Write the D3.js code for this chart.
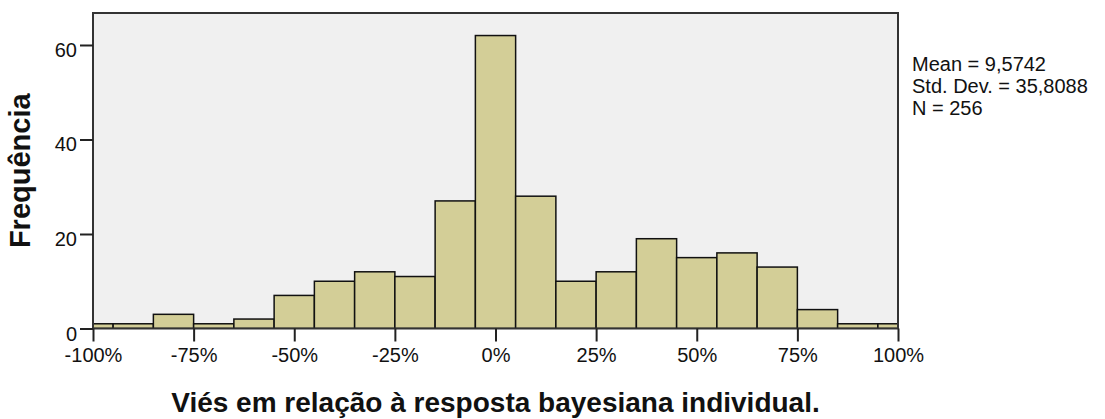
<!DOCTYPE html>
<html>
<head>
<meta charset="utf-8">
<script src="https://cdn.jsdelivr.net/npm/d3@7"></script>
<style>
  body { margin: 0; background: #fff; }
  svg text { font-family: "Liberation Sans", Arial, sans-serif; fill: #111; }
</style>
</head>
<body>
<div id="chart"></div>
<script>
// bin centres (width 10 percentage points) and counts
const binCentres = [-100, -90, -80, -70, -60, -50, -40, -30, -20, -10, 0, 10, 20, 30, 40, 50, 60, 70, 80, 90, 100]
const counts = [1, 1, 3, 1, 2, 7, 10, 12, 11, 27, 62, 28, 10, 12, 19, 15, 16, 13, 4, 1, 1]
const binWidth = 10
const xTicks = [-100, -75, -50, -25, 0, 25, 50, 75, 100]
const yTicks = [0, 20, 40, 60]
const stats = ['Mean = 9,5742', 'Std. Dev. = 35,8088', 'N = 256']

const W = 1105, H = 419
const plotL = 93, plotR = 898, plotT = 13, plotB = 328.5

let svg = d3.select('#chart')
            .append('svg')
            .attr('width', W)
            .attr('height', H)

let x = d3.scaleLinear()
          .domain([-100, 100])
          .range([plotL, plotR])

let y = d3.scaleLinear()
          .domain([0, 66.77])
          .range([plotB, plotT])

svg.append('clipPath')
  .attr('id', 'plot-clip')
  .append('rect')
  .attr('x', plotL)
  .attr('y', plotT)
  .attr('width', plotR - plotL)
  .attr('height', plotB - plotT)

// plot background
svg.append('rect')
  .attr('x', plotL)
  .attr('y', plotT)
  .attr('width', plotR - plotL)
  .attr('height', plotB - plotT)
  .attr('fill', '#f0f0f0')

let bins = binCentres.map((c, i) => ({ x0: c - binWidth / 2, x1: c + binWidth / 2, n: counts[i] }))

svg.append('g')
  .attr('clip-path', 'url(#plot-clip)')
  .selectAll('rect')
  .data(bins)
  .enter()
  .append('rect')
  .attr('x', d => x(d.x0))
  .attr('y', d => y(d.n))
  .attr('width', d => x(d.x1) - x(d.x0))
  .attr('height', d => y(0) - y(d.n))
  .attr('fill', '#d3ce97')
  .attr('stroke', '#111')
  .attr('stroke-width', 1.5)

// frame
svg.append('rect')
  .attr('x', plotL)
  .attr('y', plotT)
  .attr('width', plotR - plotL)
  .attr('height', plotB - plotT)
  .attr('fill', 'none')
  .attr('stroke', '#333')
  .attr('stroke-width', 2)

// y axis
let yAxis = svg.append('g')
  .attr('transform', `translate(${plotL},0)`)
  .call(d3.axisLeft(y).tickValues(yTicks).tickSize(13).tickPadding(3))
yAxis.select('.domain').remove()
yAxis.selectAll('line').attr('stroke', '#222').attr('stroke-width', 2)
yAxis.selectAll('text')
  .attr('dy', '11.5px')
  .style('font-size', '20px')
  .attr('fill', '#111')

// x axis
let xAxis = svg.append('g')
  .attr('transform', `translate(0,${plotB})`)
  .call(d3.axisBottom(x).tickValues(xTicks).tickSize(13).tickFormat(d => d + '%'))
xAxis.select('.domain').remove()
xAxis.selectAll('line').attr('stroke', '#222').attr('stroke-width', 2)
xAxis.selectAll('text')
  .attr('y', 0)
  .attr('dy', '33.5px')
  .style('font-size', '20px')
  .attr('fill', '#111')

// axis titles
svg.append('text')
  .attr('x', (plotL + plotR) / 2)
  .attr('y', 412)
  .attr('text-anchor', 'middle')
  .style('font-size', '28px')
  .style('font-weight', 'bold')
  .text('Viés em relação à resposta bayesiana individual.')

svg.append('text')
  .attr('transform', `translate(30,${(plotT + plotB) / 2}) rotate(-90)`)
  .attr('text-anchor', 'middle')
  .style('font-size', '29px')
  .style('font-weight', 'bold')
  .text('Frequência')

// summary statistics
svg.append('g')
  .selectAll('text')
  .data(stats)
  .enter()
  .append('text')
  .attr('x', 912)
  .attr('y', (d, i) => 71 + i * 22)
  .style('font-size', '20px')
  .text(d => d)
</script>
</body>
</html>
